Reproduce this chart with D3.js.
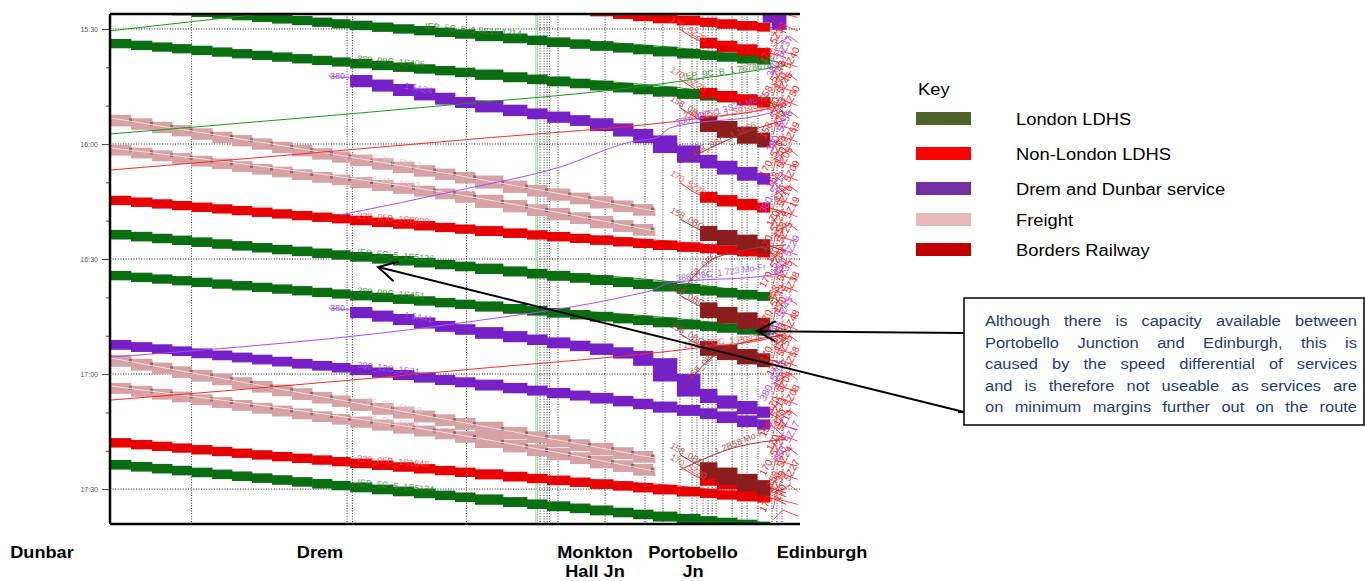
<!DOCTYPE html>
<html><head><meta charset="utf-8">
<script src="https://cdn.jsdelivr.net/npm/d3@7"></script>
<style>
body{margin:0;background:#fff;}
svg{display:block;font-family:"Liberation Sans",Arial,sans-serif;}
</style></head>
<body><svg id="c" width="1365" height="581"></svg>
<script>
// ---------------- DATA ----------------
const majorTicks = ["15:30","16:00","16:30","17:00","17:30"];
const minorTicks = ["15:40","15:50","16:10","16:20","16:40","16:50","17:10","17:20"];
const stationNames = [["Dunbar"],["Drem"],["Monkton","Hall Jn"],["Portobello","Jn"],["Edinburgh"]];
// timing-point gridlines (miles from Dunbar)
const gridMiles = [3.50,10.17,10.40,15.29,18.45,18.62,18.75,18.85,19.22,21.24,22.95,23.72,24.45,24.97,25.18,25.44,25.66,25.83,26.00,26.69,27.11,27.33,27.80,28.40,28.61,28.83];
const greenGridMiles = [18.27,18.34];
// signal block sections (miles)
const signalMiles = [0.00,0.90,1.80,2.66,3.50,4.38,5.23,6.09,6.95,7.81,8.67,9.52,10.30,11.24,12.14,13.04,13.94,14.80,15.66,16.86,17.89,18.75,19.73,20.59,21.58,22.44,23.29,24.32,25.31,26.04,26.90,27.76,28.40,29.00];

const keyNames = ["London LDHS","Non-London LDHS","Drem and Dunbar service","Freight","Borders Railway"];

// Westbound services (Dunbar -> Edinburgh): path = [mile, time]
const londonTrains = [
 {label:"IEP_5C_5_1 5E15 1214", labelAt:13.5, band:[0,28.31], path:[[0,"15:23.5"],[15.01,"15:31.0"],[28.31,"15:38.1"],[29.0,"15:39.6"]]},
 {label:"380_09C_1S406", labelAt:10.6, band:[0,28.31], path:[[0,"15:33.4"],[15.01,"15:41.0"],[28.31,"15:48.8"],[29.0,"15:53.0"]]},
 {label:"IEP_5C_5_1S5126", labelAt:10.6, band:[0,28.31], path:[[0,"16:23.2"],[15.01,"16:31.6"],[28.31,"16:39.7"],[29.0,"16:43.0"]]},
 {label:"380_09C_1S451", labelAt:10.6, band:[0,28.31], path:[[0,"16:33.9"],[15.01,"16:41.5"],[28.31,"16:48.8"],[29.0,"16:51.0"]]},
 {label:"IEP_5C_5_1S5134", labelAt:10.6, band:[0,28.31], path:[[0,"17:23.2"],[15.01,"17:31.8"],[28.31,"17:39.6"]]}
];
const nonLondonTrains = [
 {label:"", band:[15.01,28.31], path:[[15.01,"15:20.3"],[22.95,"15:26.6"],[28.31,"15:29.5"],[29.0,"15:31.0"]]},
 {label:"220_05B_1S9800", labelAt:10.6, band:[0,28.31], path:[[0,"16:14.3"],[15.01,"16:21.9"],[28.31,"16:28.4"],[29.0,"16:30.4"]]},
 {label:"220_05B_1S1848", labelAt:10.6, band:[0,28.31], path:[[0,"17:17.5"],[15.01,"17:25.3"],[28.31,"17:32.3"],[29.0,"17:34.0"]]},
 {label:"170_5Z20", labelAt:24.0, band:[25.31,28.31], path:[[24.45,"15:30.0"],[25.31,"15:33.1"],[28.31,"15:36.3"],[29.0,"15:37.5"]]},
 {label:"170_5Z20", labelAt:24.0, band:[25.31,28.31], path:[[24.45,"15:43.0"],[25.31,"15:46.2"],[28.31,"15:49.3"],[29.0,"15:50.5"]]},
 {label:"170_5Z20", labelAt:24.0, band:[25.31,28.31], path:[[24.45,"16:10.0"],[25.31,"16:13.3"],[28.31,"16:16.7"],[29.0,"16:18.0"]]},
 {label:"170_5Z20", labelAt:24.0, band:[25.31,28.31], path:[[24.45,"17:24.0"],[25.31,"17:27.1"],[28.31,"17:30.5"],[29.0,"17:32.0"]]}
];
const dremTrains = [
 {label:"", band:[28.0,29.0], path:[[15.01,"15:15.9"],[25.44,"15:23.7"],[28.31,"15:26.9"],[29.0,"15:29.0"]]},
 {label:"1 5A24", labelAt:12.6, start:"380", band:[10.30,28.31], path:[[9.4,"15:42.3"],[10.30,"15:42.8"],[15.01,"15:48.8"],[21.02,"15:54.5"],[22.95,"15:57.7"],[25.52,"16:04.2"],[28.31,"16:09.4"],[29.0,"16:13.3"]]},
 {label:"1 5A41", labelAt:12.6, start:"380", band:[10.30,28.31], path:[[9.4,"16:42.8"],[10.30,"16:43.3"],[15.01,"16:48.0"],[21.02,"16:53.2"],[22.95,"16:55.3"],[25.52,"17:05.5"],[28.31,"17:10.2"],[29.0,"17:13.3"]]},
 {label:"380_12C_1S71", labelAt:10.6, band:[0,28.31], path:[[0,"16:51.9"],[10.30,"16:58.4"],[15.01,"17:01.8"],[21.02,"17:06.0"],[25.52,"17:09.9"],[28.31,"17:13.3"],[29.0,"17:17.2"]]}
];
const freightTrains = [
 {label:"66_4M_6M12", labelAt:11.0, band:[0,23.38], path:[[0,"15:53.2"],[15.01,"16:08.3"],[23.38,"16:17.5"]]},
 {label:"66_4M_6S83", labelAt:11.0, band:[0,23.38], path:[[0,"16:01.0"],[15.01,"16:13.3"],[23.38,"16:22.7"]]},
 {label:"66_3M_6M88", labelAt:11.0, band:[0,23.38], path:[[0,"16:55.8"],[15.01,"17:12.5"],[23.38,"17:21.9"]]},
 {label:"66_3M_6S11", labelAt:11.0, band:[0,23.38], path:[[0,"17:03.1"],[15.01,"17:15.9"],[23.38,"17:25.3"]]}
];
const bordersTrains = [
 {label:"158_0BC", labelAt:24.0, band:[25.31,28.31], path:[[24.45,"15:50.5"],[25.31,"15:53.7"],[28.31,"15:59.0"],[29.0,"16:00.5"]]},
 {label:"158_0BC", labelAt:24.0, band:[25.31,28.31], path:[[24.45,"16:19.5"],[25.31,"16:22.4"],[28.31,"16:26.6"],[29.0,"16:28.0"]]},
 {label:"158_0BC", labelAt:24.0, band:[25.31,28.31], path:[[24.45,"16:39.5"],[25.31,"16:42.3"],[28.31,"16:47.2"],[29.0,"16:48.5"]]},
 {label:"158_0BC", labelAt:24.0, band:[25.31,28.31], path:[[24.45,"16:49.5"],[25.31,"16:52.4"],[28.31,"16:56.3"],[29.0,"16:57.5"]]},
 {label:"158_0BC", labelAt:24.0, band:[25.31,28.31], path:[[24.45,"17:21.0"],[25.31,"17:24.0"],[28.31,"17:29.7"],[29.0,"17:31.0"]]}
];
// Eastbound services (Edinburgh -> Dunbar), thin lines
const eastLondon = [
 {label:"", path:[[0,"15:30.5"],[29.0,"15:10.7"]]},
 {label:"IEP_9C_B_1 7678678", labelAt:24.6, path:[[0,"15:57.4"],[15.01,"15:49.6"],[21.88,"15:45.7"],[25.44,"15:42.8"],[28.31,"15:40.2"],[29.0,"15:39.4"]]}
];
const eastNonLondon = [
 {label:"220_05C_1 S91853", labelAt:24.6, path:[[0,"16:06.8"],[15.01,"15:59.0"],[25.44,"15:53.2"],[28.31,"15:50.6"],[29.0,"15:49.3"]]},
 {label:"158_150C_1 P0836", labelAt:24.6, path:[[0,"17:06.8"],[10.30,"17:01.6"],[15.01,"16:59.0"],[25.44,"16:53.0"],[28.31,"16:50.6"],[29.0,"16:49.3"]]}
];
const eastDrem = [
 {label:"380_08C_1 2S24 Mo-Fr", labelAt:24.3, path:[[9.9,"16:18.5"],[15.01,"16:12.0"],[19.30,"16:06.0"],[22.31,"15:59.5"],[23.51,"15:58.2"],[24.02,"15:55.8"],[28.31,"15:51.9"],[29.0,"15:49.8"]]},
 {label:"380_08C_1 723 Mo-Fr", labelAt:24.3, path:[[0,"16:55.6"],[15.01,"16:46.7"],[22.39,"16:39.4"],[23.29,"16:38.1"],[23.94,"16:36.3"],[28.31,"16:34.2"],[29.0,"16:32.9"]]}
];
const eastBorders = [
 {label:"158_0BC_1 1656", labelAt:25.0, path:[[24.45,"16:05.0"],[27.58,"15:56.3"],[29.0,"15:53.7"]]},
 {label:"158_0BC", labelAt:24.9, path:[[24.45,"16:38.9"],[26.04,"16:29.5"],[29.0,"16:26.3"]]},
 {label:"158_0BC", labelAt:24.9, path:[[24.58,"17:03.7"],[26.30,"16:53.7"],[29.0,"16:49.8"]]},
 {label:"1 2B58 Mo-Fr", labelAt:26.0, path:[[24.45,"17:25.0"],[26.90,"17:19.0"],[29.0,"17:17.0"]]}
];
// Edinburgh terminal moves (labels cluster)
const edinburghMoves = [["15:27.0","170"],["15:30.5","158"],["15:33.5","170"],["15:37.0","380"],["15:40.0","170"],["15:43.5","158"],["15:46.5","170"],["15:50.0","170"],["15:53.0","158"],["15:56.5","380"],["15:59.5","170"],["16:03.0","170"],["16:06.0","158"],["16:09.5","170"],["16:12.5","380"],["16:16.0","170"],["16:19.0","158"],["16:22.5","170"],["16:25.5","170"],["16:29.0","380"],["16:32.0","170"],["16:35.5","158"],["16:38.5","170"],["16:42.0","170"],["16:45.0","380"],["16:48.5","158"],["16:51.5","170"],["16:55.0","170"],["16:58.0","158"],["17:01.5","380"],["17:04.5","170"],["17:08.0","170"],["17:11.0","158"],["17:14.5","170"],["17:17.5","380"],["17:21.0","170"],["17:24.0","158"],["17:27.5","170"],["17:30.5","170"],["17:34.0","158"],["17:37.0","380"]];

const annotationLines = ["Although there is capacity available between","Portobello Junction and Edinburgh, this is","caused by the speed differential of services","and is therefore not useable as services are","on minimum margins further out on the route"];
const arrowTargets = [[27.76,"16:48.8"],[11.50,"16:32.1"]];

// ---------------- HELPERS ----------------
const T = s => { const p = s.split(":"); return (+p[0])*60 + (+p[1]); };
const fmt = v => { const h = Math.floor(v/60), m = Math.round(v - h*60); return h + ":" + String(m).padStart(2,"0"); };

const P = {left:110, right:800, top:14, bottom:524};
const x = d3.scaleLinear().domain([0, 29.6]).range([P.left, P.right]);
const y = d3.scaleLinear().domain([926.1, 1059.1]).range([P.top, P.bottom]);

const svg = d3.select("#c");
const defs = svg.append("defs");
defs.append("clipPath").attr("id","plot").append("rect")
  .attr("x",P.left).attr("y",P.top).attr("width",P.right-P.left).attr("height",P.bottom-P.top);

const plot = svg.append("g").attr("clip-path","url(#plot)");

// gridlines
plot.append("g").selectAll("line").data(majorTicks).join("line")
  .attr("x1",P.left).attr("x2",P.right).attr("y1",d=>y(T(d))).attr("y2",d=>y(T(d)))
  .attr("stroke","#222").attr("stroke-width",1).attr("stroke-dasharray","1,1.6");
plot.append("g").selectAll("line").data(gridMiles).join("line")
  .attr("x1",d=>x(d)).attr("x2",d=>x(d)).attr("y1",P.top).attr("y2",P.bottom)
  .attr("stroke","#333").attr("stroke-width",1).attr("stroke-dasharray","1,1.6");
plot.append("g").selectAll("line").data(greenGridMiles).join("line")
  .attr("x1",d=>x(d)).attr("x2",d=>x(d)).attr("y1",P.top).attr("y2",P.bottom)
  .attr("stroke","#8fe08f").attr("stroke-width",1);

const timeScale = tr => d3.scaleLinear().domain(tr.path.map(d=>d[0])).range(tr.path.map(d=>T(d[1])));
const lineGen = d3.line().x(d=>x(d[0])).y(d=>y(T(d[1]))).curve(d3.curveMonotoneX);

const styles = {
  london:   {fill:"#0b6d12", thin:"#1c9a1c", lead:0.8, trail:1.2, text:"#2f8a2f"},
  nonlon:   {fill:"#e60000", thin:"#ff2a2a", lead:0.8, trail:1.2, text:"#ff4040"},
  drem:     {fill:"#7620c8", thin:"#a64dff", lead:0.8, trail:1.2, text:"#a050f0"},
  freight:  {fill:"#d6a2a4", thin:"#f6dede", lead:0.8, trail:1.3, text:"#e8c4c4", edge:"#8a6868"},
  borders:  {fill:"#8c1d1d", thin:"#a83030", lead:1.0, trail:1.9, text:"#b04040"}
};

function drawThin(g, trains, st, width) {
  g.append("g").selectAll("path").data(trains).join("path")
    .attr("d", d=>lineGen(d.path)).attr("fill","none")
    .attr("stroke", st.thin).attr("stroke-width", width||1);
}
function drawBands(g, trains, st) {
  trains.forEach(tr => {
    const tt = timeScale(tr);
    const [m0,m1] = tr.band;
    const cuts = [m0, ...signalMiles.filter(s => s > m0+0.05 && s < m1-0.05), m1];
    const secs = d3.pairs(cuts);
    const bg = g.append("g");
    bg.selectAll("rect").data(secs).join("rect")
      .attr("x", d=>x(d[0])).attr("width", d=>x(d[1])-x(d[0])+0.4)
      .attr("y", d=>y(tt(d[0]) - st.lead))
      .attr("height", d=>y(tt(d[1]) + st.trail) - y(tt(d[0]) - st.lead))
      .attr("fill", st.fill);
    if (st.edge) {
      bg.selectAll("rect.edge").data(secs.slice(1)).join("rect").attr("class","edge")
        .attr("x", d=>x(d[0])-2).attr("width", 3)
        .attr("y", d=>y(tt(d[0]) - st.lead)).attr("height", 4)
        .attr("fill", st.edge);
    }
  });
}
function drawLabels(g, trains, st, size) {
  trains.filter(d=>d.label).forEach(tr => {
    const tt = timeScale(tr);
    const m = tr.labelAt;
    const x0 = x(m - 0.5), x1 = x(m + 0.5);
    const ang = Math.atan2(y(tt(m+0.5)) - y(tt(m-0.5)), x1 - x0) * 180/Math.PI;
    g.append("text").attr("transform", `translate(${x(m)},${y(tt(m))-1}) rotate(${ang})`)
      .attr("font-size", size||9).attr("fill", st.text).attr("opacity",0.85).text(tr.label);
    if (tr.start) {
      g.append("text").attr("x", x(tr.band[0]) - 20).attr("y", y(tt(tr.band[0])) + 1)
        .attr("font-size", 9).attr("fill", st.text).text(tr.start);
    }
  });
}

// bands
const gBands = plot.append("g");
drawThin(gBands, londonTrains, styles.london);
drawThin(gBands, nonLondonTrains, styles.nonlon);
drawThin(gBands, dremTrains, styles.drem);
drawThin(gBands, bordersTrains, styles.borders);
drawBands(gBands, freightTrains, styles.freight);
drawThin(gBands, freightTrains, styles.freight);
drawBands(gBands, londonTrains, styles.london);
drawBands(gBands, nonLondonTrains, styles.nonlon);
drawBands(gBands, dremTrains, styles.drem);
drawBands(gBands, bordersTrains, styles.borders);

// eastbound thin lines
const gThin = plot.append("g");
drawThin(gThin, eastLondon, styles.london);
drawThin(gThin, eastNonLondon, styles.nonlon);
drawThin(gThin, eastDrem, styles.drem);
drawThin(gThin, eastBorders, styles.borders);

// labels
const gLab = plot.append("g");
drawLabels(gLab, londonTrains, styles.london);
drawLabels(gLab, nonLondonTrains, styles.nonlon);
drawLabels(gLab, dremTrains, styles.drem);
drawLabels(gLab, freightTrains, styles.freight);
drawLabels(gLab, bordersTrains, styles.borders);
drawLabels(gLab, eastLondon, styles.london);
drawLabels(gLab, eastNonLondon, styles.nonlon);
drawLabels(gLab, eastDrem, styles.drem);
drawLabels(gLab, eastBorders, styles.borders);

// Edinburgh cluster
const anchorMiles = [28.55, 28.85, 29.15];
const gEd = plot.append("g");
gEd.selectAll("path").data(edinburghMoves).join("path")
  .attr("d", (d,i) => `M${x(29.5)},${y(T(d[0]))} L${x(anchorMiles[i%3])},${y(T(d[0]))-6} L${x(28.45)},${y(T(d[0]))+4}`)
  .attr("fill","none").attr("stroke","#ff2020").attr("stroke-width",0.8);
const labelledMoves = edinburghMoves.filter(d => y(T(d[0])) > 36 && y(T(d[0])) < 500);
gEd.selectAll("text").data(labelledMoves).join("text")
  .attr("transform", (d,i) => `translate(${x(anchorMiles[i%3])},${y(T(d[0]))+2}) rotate(-62)`)
  .attr("text-anchor","middle")
  .attr("font-size", 10).attr("fill", d => d[1]==="380" ? "#b050ff" : "#ff1a1a")
  .text(d => d[1] + "_5Z" + d[0].slice(3,5));

// frame
const frame = svg.append("g").attr("stroke","#000").attr("stroke-width",2.5);
frame.append("line").attr("x1",P.left).attr("x2",P.left).attr("y1",P.top).attr("y2",P.bottom);
frame.append("line").attr("x1",P.left).attr("x2",P.right).attr("y1",P.top).attr("y2",P.top);
frame.append("line").attr("x1",P.left).attr("x2",P.right).attr("y1",P.bottom).attr("y2",P.bottom);

// y axis
const ax = svg.append("g").attr("transform",`translate(${P.left-1},0)`)
  .call(d3.axisLeft(y).tickValues(majorTicks.map(T)).tickFormat(fmt).tickSize(7).tickPadding(4));
ax.select(".domain").remove();
ax.selectAll("text").attr("font-size",7).attr("fill","#555").attr("font-family","Liberation Sans, Arial");
ax.selectAll("line").attr("stroke","#444");
const axm = svg.append("g").attr("transform",`translate(${P.left-1},0)`)
  .call(d3.axisLeft(y).tickValues(minorTicks.map(T)).tickFormat("").tickSize(3));
axm.select(".domain").remove();
axm.selectAll("line").attr("stroke","#444");

// station labels
const stationLabelX = [42, 320, 595, 693, 822];
stationNames.forEach((lines, i) => {
  const g = svg.append("g").attr("transform", `translate(${stationLabelX[i]},558) scale(1.1,1)`);
  lines.forEach((t, j) => g.append("text").attr("y", j*19).attr("text-anchor","middle")
    .attr("font-size",16.5).attr("font-weight","bold").attr("fill","#000").text(t));
});

// legend
const keyColors = ["#4f6228","#ff0000","#7030a0","#e6b9b8","#c00000"];
const keyY = [112,147,182,213,243];
svg.append("text").attr("transform","translate(918,95) scale(1.08,1)").attr("font-size",17).attr("fill","#000").text("Key");
svg.append("g").selectAll("rect").data(keyNames).join("rect")
  .attr("x",916).attr("width",55).attr("y",(d,i)=>keyY[i]).attr("height",13).attr("fill",(d,i)=>keyColors[i]);
svg.append("g").selectAll("text").data(keyNames).join("text")
  .attr("transform",(d,i)=>`translate(1016,${keyY[i]+13}) scale(1.08,1)`)
  .attr("font-size",17).attr("fill","#000").text(d=>d);

// annotation box
svg.append("rect").attr("x",964).attr("y",298).attr("width",400).attr("height",127)
  .attr("fill","#fff").attr("stroke","#000").attr("stroke-width",1.5);
const SX = 1.06, LW = (1357-985)/SX;
annotationLines.forEach((line, i) => {
  const g = svg.append("g").attr("transform", `translate(985,${326 + i*21.5}) scale(${SX},1)`);
  const words = line.split(" ");
  const ts = words.map(w => g.append("text").attr("font-size",15.5).attr("fill","#1f3b73").text(w));
  const ws = ts.map(t => t.node().getComputedTextLength());
  const gap = (LW - d3.sum(ws)) / (words.length - 1);
  let cx = 0;
  ts.forEach((t, j) => { t.attr("x", cx); cx += ws[j] + gap; });
});

// arrows
const arrowStarts = [[964,333],[964,412]];
const ga = svg.append("g").attr("stroke","#000").attr("stroke-width",2).attr("fill","none");
arrowTargets.forEach((tg, i) => {
  const tx = x(tg[0]), ty = y(T(tg[1]));
  const [sx, sy] = arrowStarts[i];
  ga.append("line").attr("x1",sx).attr("y1",sy).attr("x2",tx).attr("y2",ty);
  const a = Math.atan2(sy-ty, sx-tx), L = 21, s = 0.5;
  ga.append("path").attr("d",
    `M${tx+L*Math.cos(a+s)},${ty+L*Math.sin(a+s)} L${tx},${ty} L${tx+L*Math.cos(a-s)},${ty+L*Math.sin(a-s)}`);
  ga.append("line").attr("x1",sx-6).attr("y1",sy).attr("x2",sx).attr("y2",sy);
});
</script></body></html>
